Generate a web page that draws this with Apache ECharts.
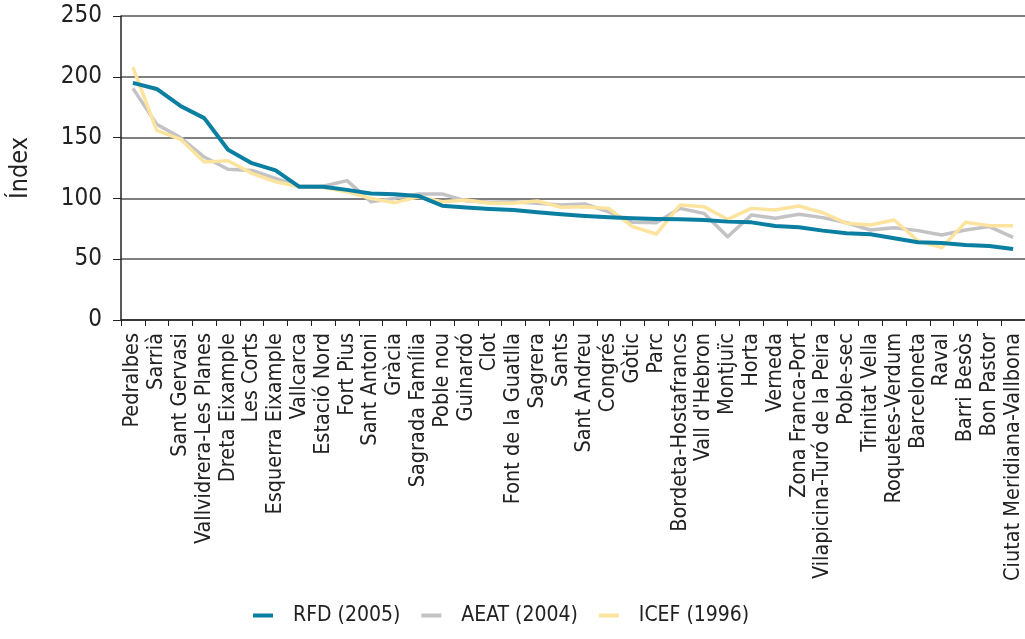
<!DOCTYPE html>
<html>
<head>
<meta charset="utf-8">
<script src="https://cdn.jsdelivr.net/npm/echarts@6/dist/echarts.min.js"></script>
<style>
  html, body { margin: 0; padding: 0; background: #fff; }
  #chart { width: 1025px; height: 639px; }
</style>
</head>
<body>
<div id="chart"></div>
<script>
// Barris de Barcelona, ordenats per l'índex RFD (2005)
const barris = [
  'Pedralbes', 'Sarrià', 'Sant Gervasi', 'Vallvidrera-Les Planes', 'Dreta Eixample',
  'Les Corts', 'Esquerra Eixample', 'Vallcarca', 'Estació Nord', 'Fort Pius',
  'Sant Antoni', 'Gràcia', 'Sagrada Família', 'Poble nou', 'Guinardó', 'Clot',
  'Font de la Guatlla', 'Sagrera', 'Sants', 'Sant Andreu', 'Congrés', 'Gòtic',
  'Parc', 'Bordeta-Hostafrancs', "Vall d'Hebron", 'Montjuïc', 'Horta', 'Verneda',
  'Zona Franca-Port', 'Vilapicina-Turó de la Peira', 'Poble-sec', 'Trinitat Vella',
  'Roquetes-Verdum', 'Barceloneta', 'Raval', 'Barri Besòs', 'Bon Pastor',
  'Ciutat Meridiana-Vallbona'
];

const rfd2005 = [195, 190, 176, 166, 140, 129, 123, 109.5, 109.5, 107, 104, 103.5,
  102, 94, 92.5, 91.3, 90.5, 88.6, 86.9, 85.5, 84.4, 83.6, 83, 82.8, 82.2, 80.9,
  80.3, 77.3, 76.2, 73.5, 71.3, 70.5, 67.2, 63.9, 63.3, 61.7, 60.9, 58.4];

const aeat2004 = [190.5, 161, 150, 134, 124, 123, 116.5, 110, 110, 114.6, 97.3, 100,
  103.6, 103.6, 98, 96.8, 97.3, 96, 94.6, 95.4, 89, 80.3, 80, 91.8, 87.7, 68.5,
  86.3, 83.6, 86.9, 84.2, 80, 74, 75.9, 73.5, 69.9, 74, 76.8, 68];

const icef1996 = [208, 156, 148.6, 130, 131, 120.6, 113.7, 109.6, 109, 105.5, 100, 96.5,
  101.4, 97.3, 98.7, 96, 96, 97.9, 92.7, 93.2, 91.8, 76.8, 70.7, 94.6, 93.2, 82.8,
  91.8, 90.5, 93.75, 88.3, 79.5, 78.1, 82.2, 65.2, 59.5, 80.3, 77.6, 77.6];

const FONT = "'DejaVu Sans Condensed', 'DejaVu Sans', sans-serif";

const chart = echarts.init(document.getElementById('chart'), null, { renderer: 'canvas' });

function serie(name, data, color, width, z) {
  return {
    name: name,
    type: 'line',
    data: data,
    showSymbol: false,
    symbol: 'none',
    z: z,
    lineStyle: { color: color, width: width, join: 'round' },
    itemStyle: { color: color },
    emphasis: { disabled: true }
  };
}

chart.setOption({
  animation: false,
  backgroundColor: '#ffffff',
  grid: { left: 119, top: 16, width: 907, height: 304 },
  legend: {
    bottom: 8,
    left: 248,
    icon: 'rect',
    itemWidth: 20,
    itemHeight: 4,
    itemGap: 21,
    textStyle: { fontFamily: FONT, fontSize: 21, color: '#222', padding: [0, 0, 0, 15] },
    data: ['RFD (2005)', 'AEAT (2004)', 'ICEF (1996)']
  },
  xAxis: {
    type: 'category',
    data: barris,
    boundaryGap: true,
    axisLine: { lineStyle: { color: '#222', width: 1.5 } },
    axisTick: { show: true, length: 6, lineStyle: { color: '#222', width: 1 } },
    axisLabel: {
      interval: 0,
      rotate: 90,
      margin: 13,
      fontFamily: FONT,
      fontSize: 21.5,
      color: '#222'
    },
    splitLine: { show: false }
  },
  yAxis: {
    type: 'value',
    min: 0,
    max: 250,
    interval: 50,
    name: 'Índex',
    nameLocation: 'middle',
    nameGap: 88,
    nameRotate: 90,
    nameTextStyle: { fontFamily: FONT, fontSize: 25, color: '#222' },
    axisLine: { show: true, lineStyle: { color: '#222', width: 1.5 } },
    axisTick: { show: true, length: 8, lineStyle: { color: '#222', width: 1 } },
    axisLabel: { fontFamily: FONT, fontSize: 24, color: '#222', margin: 19 },
    splitLine: { show: true, lineStyle: { color: '#555', width: 1.5 } }
  },
  series: [
    serie('RFD (2005)', rfd2005, '#0a7fa1', 4, 4),
    serie('AEAT (2004)', aeat2004, '#c3c3c6', 3.5, 2),
    serie('ICEF (1996)', icef1996, '#fde49e', 3.5, 3)
  ]
});
</script>
</body>
</html>
